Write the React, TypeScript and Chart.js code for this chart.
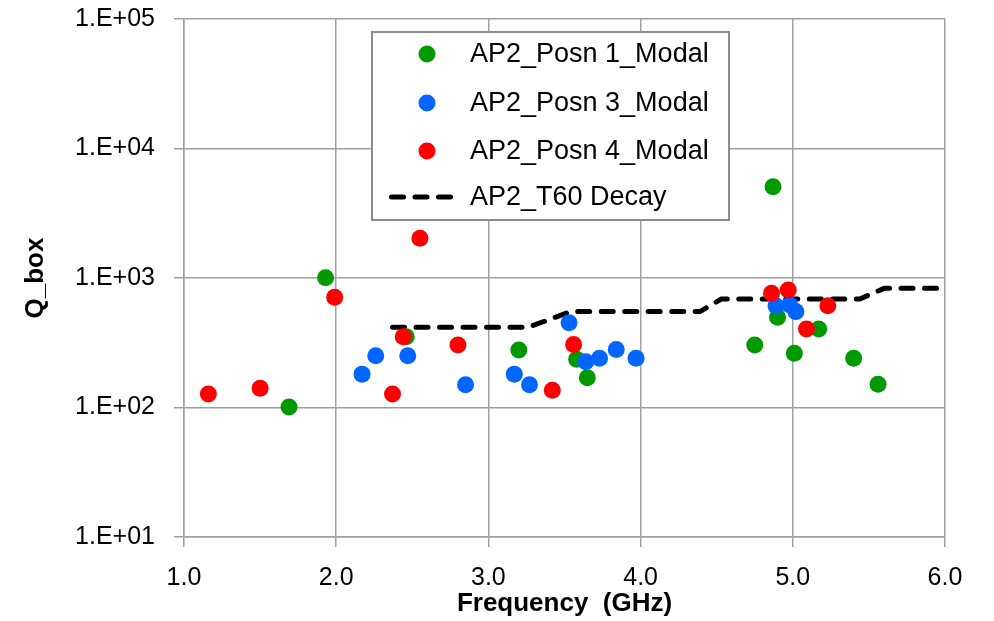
import React, { useEffect, useRef } from "react";
import { Chart, registerables } from "chart.js";

Chart.register(...registerables);

// Frequency (GHz) and Q_box values
const posn1Freq = [1.69, 1.93, 2.46, 3.2, 3.58, 3.65, 4.75, 4.87, 4.9, 5.01, 5.17, 5.4, 5.56];
const posn1Q = [101, 1005, 352, 278, 236, 170, 304, 5070, 498, 262, 403, 240, 151];

const posn3Freq = [2.17, 2.26, 2.47, 2.85, 3.17, 3.27, 3.53, 3.64, 3.73, 3.84, 3.97, 4.89, 4.98, 5.02];
const posn3Q = [181, 251, 251, 150, 181, 150, 452, 226, 240, 281, 240, 608, 620, 550];

const posn4Freq = [1.16, 1.5, 1.99, 2.37, 2.44, 2.55, 2.8, 3.42, 3.56, 4.86, 4.97, 5.09, 5.23];
const posn4Q = [127, 141, 710, 127, 352, 2028, 304, 136, 307, 762, 807, 403, 611];

const t60Freq = [2.37, 3.26, 3.54, 4.39, 4.53, 5.44, 5.6, 6.0];
const t60Q = [416, 416, 550, 550, 688, 688, 832, 832];

const xTicks = [1, 2, 3, 4, 5, 6];
const yTicks = [10, 100, 1000, 10000, 100000];

const seriesNames = ["AP2_Posn 1_Modal", "AP2_Posn 3_Modal", "AP2_Posn 4_Modal", "AP2_T60 Decay"];
const seriesColors = ["#009900", "#0066ff", "#ff0000", "#000000"];

const FONT = "'Liberation Sans', Arial, sans-serif";

const toPoints = (xs: number[], ys: number[]) => xs.map((x, i) => ({ x, y: ys[i] }));

const legendPlugin = {
  id: "insideLegend",
  afterDatasetsDraw(chart: any) {
    const ctx = chart.ctx as CanvasRenderingContext2D;
    const left = 372, top = 32, right = 729, bottom = 220;
    ctx.save();
    ctx.fillStyle = "#ffffff";
    ctx.fillRect(left, top, right - left, bottom - top);
    ctx.strokeStyle = "#8c8c8c";
    ctx.lineWidth = 2;
    ctx.strokeRect(left, top, right - left, bottom - top);
    const rows = [54, 103, 151, 197];
    ctx.font = `27px ${FONT}`;
    ctx.textBaseline = "middle";
    ctx.textAlign = "left";
    seriesNames.forEach((name, i) => {
      const y = rows[i];
      if (i < 3) {
        ctx.fillStyle = seriesColors[i];
        ctx.beginPath();
        ctx.arc(427, y, 8.5, 0, Math.PI * 2);
        ctx.fill();
      } else {
        ctx.strokeStyle = "#000";
        ctx.lineWidth = 5;
        ctx.lineCap = "round";
        ctx.setLineDash([12, 11.5]);
        ctx.beginPath();
        ctx.moveTo(391.5, y);
        ctx.lineTo(451, y);
        ctx.stroke();
        ctx.setLineDash([]);
      }
      ctx.fillStyle = "#000";
      ctx.fillText(name, 470, y + 1);
    });
    ctx.restore();
  },
};

export default function App() {
  const ref = useRef<HTMLCanvasElement | null>(null);

  useEffect(() => {
    if (!ref.current) return;
    const pointDs = (i: number, xs: number[], ys: number[]) => ({
      type: "scatter" as const,
      label: seriesNames[i],
      data: toPoints(xs, ys),
      backgroundColor: seriesColors[i],
      borderWidth: 0,
      pointRadius: 8.5,
      pointHoverRadius: 8.5,
      order: 2 - i,
    });
    const chart = new Chart(ref.current, {
      type: "scatter",
      data: {
        datasets: [
          pointDs(0, posn1Freq, posn1Q),
          pointDs(1, posn3Freq, posn3Q),
          pointDs(2, posn4Freq, posn4Q),
          {
            type: "line",
            label: seriesNames[3],
            data: toPoints(t60Freq, t60Q),
            borderColor: "#000",
            borderWidth: 5,
            borderDash: [12, 11.5],
            borderCapStyle: "round",
            pointRadius: 0,
            showLine: true,
            fill: false,
            tension: 0,
            order: 5,
          } as any,
        ],
      },
      options: {
        responsive: false,
        animation: false,
        events: [],
        layout: { padding: { left: 0, top: 19, right: 49, bottom: 0 } },
        plugins: {
          legend: { display: false },
          tooltip: { enabled: false },
        },
        scales: {
          x: {
            type: "linear",
            min: 1,
            max: 6,
            afterBuildTicks: (axis: any) => {
              axis.ticks = xTicks.map((v) => ({ value: v }));
            },
            afterFit: (scale: any) => {
              scale.height = 84;
              scale.paddingLeft = 0;
              scale.paddingRight = 0;
            },
            ticks: {
              callback: (v: any) => Number(v).toFixed(1),
              color: "#000",
              font: { family: FONT, size: 25 },
              padding: 16,
              maxRotation: 0,
            },
            grid: { color: "#a0a0a0", lineWidth: 1.5, tickLength: 10 },
            border: { display: true, color: "#a0a0a0", width: 1.5 },
            title: {
              display: true,
              text: "Frequency  (GHz)",
              color: "#000",
              font: { family: FONT, size: 26, weight: "bold" },
              padding: { top: 0, bottom: 2 },
            },
          },
          y: {
            type: "logarithmic",
            min: 10,
            max: 100000,
            afterBuildTicks: (axis: any) => {
              axis.ticks = yTicks.map((v) => ({ value: v }));
            },
            afterFit: (scale: any) => {
              scale.width = 184;
              scale.paddingTop = 0;
              scale.paddingBottom = 0;
            },
            ticks: {
              callback: (v: any) => "1.E+" + String(Math.round(Math.log10(Number(v)))).padStart(2, "0"),
              color: "#000",
              font: { family: FONT, size: 25 },
              padding: 19,
            },
            grid: { color: "#a0a0a0", lineWidth: 1.5, tickLength: 10 },
            border: { display: true, color: "#a0a0a0", width: 1.5 },
            title: {
              display: true,
              text: "Q_box",
              color: "#000",
              font: { family: FONT, size: 26, weight: "bold" },
              padding: { top: 20, bottom: 0 },
            },
          },
        },
      },
      plugins: [legendPlugin],
    });
    return () => chart.destroy();
  }, []);

  return (
    <div style={{ position: "absolute", left: 0, top: 0, width: 994, height: 621, background: "#fff" }}>
      <canvas ref={ref} width={994} height={621} style={{ display: "block" }} />
    </div>
  );
}
